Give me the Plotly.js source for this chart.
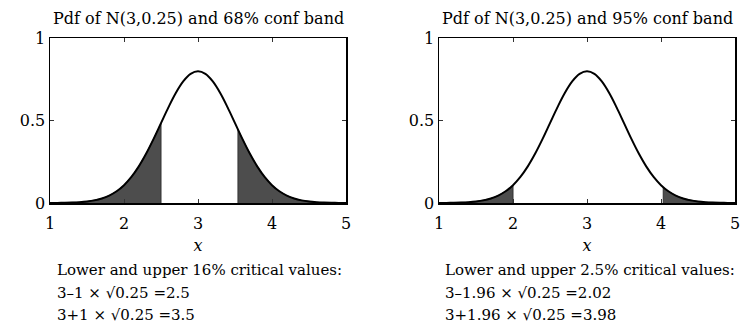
<!DOCTYPE html>
<html>
<head>
<meta charset="utf-8">
<script src="https://cdn.plot.ly/plotly-3.0.1.min.js"></script>
<style>html,body{margin:0;padding:0;background:#fff;}#chart{width:742px;height:323px;}</style>
</head>
<body>
<div id="chart"></div>
<script>
// Pdf of N(3, 0.25) read at x = 1.0 ... 5.0 (step 0.1)
const xVals = [1.0,1.1,1.2,1.3,1.4,1.5,1.6,1.7,1.8,1.9,2.0,2.1,2.2,2.3,2.4,2.5,2.6,2.7,2.8,2.9,3.0,
               3.1,3.2,3.3,3.4,3.5,3.6,3.7,3.8,3.9,4.0,4.1,4.2,4.3,4.4,4.5,4.6,4.7,4.8,4.9,5.0];
const pdfVals = [0.0003,0.0006,0.0012,0.0025,0.0048,0.0089,0.0158,0.0272,0.0448,0.0709,0.1080,
                 0.1579,0.2218,0.2995,0.3884,0.4839,0.5794,0.6665,0.7366,0.7821,0.7979,
                 0.7821,0.7366,0.6665,0.5794,0.4839,0.3884,0.2995,0.2218,0.1579,0.1080,
                 0.0709,0.0448,0.0272,0.0158,0.0089,0.0048,0.0025,0.0012,0.0006,0.0003];
// shaded band edges (as drawn) and curve height there
const edges68 = [2.5, 3.54];
const edgeY68 = [0.4839, 0.4453];
const edges95 = [2.0, 4.03];
const edgeY95 = [0.1080, 0.0956];

const titles = ["Pdf of N(3,0.25) and 68% conf band", "Pdf of N(3,0.25) and 95% conf band"];
const notes68 = ["Lower and upper 16% critical values:", "3\u20131 \u00d7 \u221a0.25 =2.5", "3+1 \u00d7 \u221a0.25 =3.5"];
const notes95 = ["Lower and upper 2.5% critical values:", "3\u20131.96 \u00d7 \u221a0.25 =2.02", "3+1.96 \u00d7 \u221a0.25 =3.98"];
const xTicks = [1,2,3,4,5];
const yTicks = [0,0.5,1];
const yTickText = ["0","0.5","1"];

const FONT = "DejaVu Serif, serif";
const FILL = "#4d4d4d";

function tails(edges, edgeY) {
  const lx = [], ly = [], rx = [], ry = [];
  for (let i = 0; i < xVals.length; i++) {
    if (xVals[i] < edges[0]) { lx.push(xVals[i]); ly.push(pdfVals[i]); }
  }
  lx.push(edges[0]); ly.push(edgeY[0]);
  rx.push(edges[1]); ry.push(edgeY[1]);
  for (let i = 0; i < xVals.length; i++) {
    if (xVals[i] > edges[1]) { rx.push(xVals[i]); ry.push(pdfVals[i]); }
  }
  lx.push(edges[0]); ly.push(0);
  rx.unshift(edges[1]); ry.unshift(0);
  return [[lx, ly], [rx, ry]];
}

const traces = [];
[[edges68, edgeY68, 'x', 'y'], [edges95, edgeY95, 'x2', 'y2']].forEach(([e, ey, xa, ya]) => {
  tails(e, ey).forEach(([tx, ty]) => {
    traces.push({x: tx, y: ty, xaxis: xa, yaxis: ya, mode: 'lines', fill: 'toself',
      fillcolor: FILL, line: {color: '#333', width: 1}, hoverinfo: 'skip', showlegend: false});
  });
  traces.push({x: xVals, y: pdfVals, xaxis: xa, yaxis: ya, mode: 'lines',
    line: {color: '#000', width: 2, shape: 'spline', smoothing: 1}, showlegend: false});
});

function xaxis(domain, anchor) {
  return {domain: domain, anchor: anchor, range: [1, 5], tickvals: xTicks, ticks: 'inside', ticklen: 4,
    tickcolor: '#333', showline: true, linecolor: '#000', linewidth: 1.5, mirror: 'ticks',
    showgrid: false, zeroline: false, ticklabelstandoff: 5, tickfont: {family: FONT, size: 16, color: '#000'},
    title: {text: '<i>x</i>', font: {family: FONT, size: 16, color: '#000'}, standoff: 8}, fixedrange: true};
}
function yaxis(anchor) {
  return {domain: [0, 1], anchor: anchor, range: [0, 1], tickvals: yTicks, ticktext: yTickText, ticks: 'inside',
    ticklen: 4, tickcolor: '#333', showline: true, linecolor: '#000', linewidth: 1.5, mirror: 'ticks',
    showgrid: false, zeroline: false, tickfont: {family: FONT, size: 16, color: '#000'}, fixedrange: true};
}

const d1 = [0, 296/685], d2 = [389/685, 1];
const H = 165;
const ann = [];
titles.forEach((t, i) => {
  const d = i === 0 ? d1 : d2;
  ann.push({text: t, xref: 'paper', yref: 'paper', x: (d[0] + d[1]) / 2, y: (203 - 18.5) / H,
    xanchor: 'center', yanchor: 'middle', showarrow: false, font: {family: FONT, size: 16, color: '#000'}});
});
[[notes68, 55], [notes95, 443]].forEach(([lines, px]) => {
  const ys = [270, 293, 315];
  lines.forEach((l, j) => {
    ann.push({text: l, xref: 'paper', yref: 'paper', x: (px - 50) / 685, y: (203 - ys[j]) / H,
      xanchor: 'left', yanchor: 'middle', showarrow: false, font: {family: FONT, size: 15, color: '#000'}});
  });
});

const layout = {
  width: 742, height: 323, margin: {l: 50, r: 7, t: 38, b: 120},
  paper_bgcolor: '#fff', plot_bgcolor: '#fff',
  xaxis: xaxis(d1, 'y'), yaxis: yaxis('x'),
  xaxis2: xaxis(d2, 'y2'), yaxis2: yaxis('x2'),
  annotations: ann, showlegend: false
};
Plotly.newPlot('chart', traces, layout, {displayModeBar: false, staticPlot: true});
</script>
</body>
</html>
